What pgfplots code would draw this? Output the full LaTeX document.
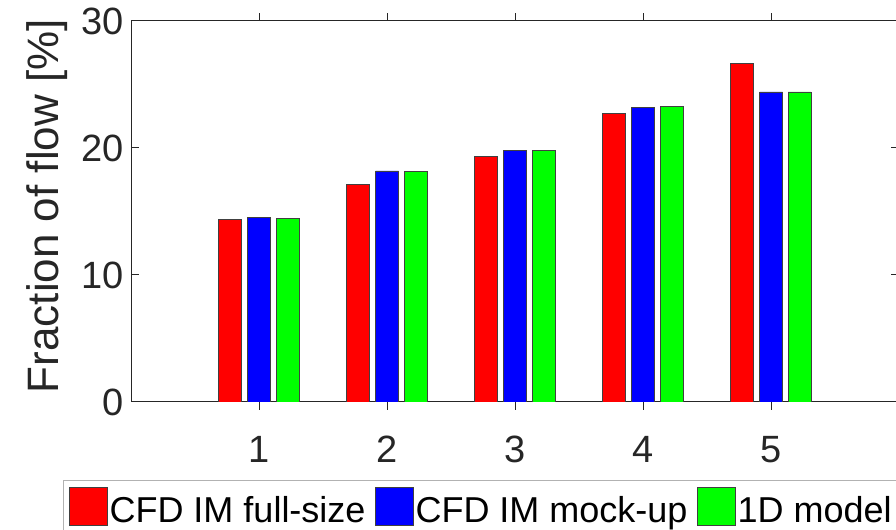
\documentclass[border=0pt]{standalone}
\usepackage{fontspec}
\setmainfont{Liberation Sans}
\usepackage{pgfplots}
\pgfplotsset{compat=1.18}
\definecolor{axgray}{RGB}{38,38,38}
\definecolor{mred}{RGB}{255,0,0}
\definecolor{mblue}{RGB}{0,0,255}
\definecolor{mgreen}{RGB}{0,255,0}
\pgfplotsset{sqleg/.style={legend image code/.code={\draw[##1,line width=0.5pt] (0pt,-1.5pt) rectangle (19pt,17.5pt);}}}

\begin{document}
\begin{tikzpicture}
\begin{axis}[
  at={(65.5pt,64pt)}, anchor=south west,
  scale only axis, width=384pt, height=190.5pt,
  xmin=0, xmax=6, ymin=0, ymax=30,
  xtick={1,2,3,4,5}, ytick={0,10,20,30},
  tick align=inside, major tick length=3.85pt,
  axis line style={axgray, line width=0.5pt},
  every tick/.style={axgray, line width=0.5pt},
  tick label style={font=\fontsize{19}{19}\selectfont, text=axgray},
  /pgf/number format/assume math mode=true,
  xticklabel style={anchor=base, yshift=-26.5pt},
  ylabel={Fraction of flow [\%]},
  every axis y label/.style={at={(axis description cs:-0.0944,0.514)}, rotate=90, anchor=base,
    font=\fontsize{22}{22}\selectfont, text=axgray},
  ybar=2.85pt, bar width=11.5pt,
  legend columns=-1,
  legend style={at={(axis description cs:-0.0885,-0.2047)}, anchor=north west,
    draw=gray!60, line width=0.5pt, font=\fontsize{18}{18}\selectfont,
    inner xsep=2.5pt, inner ysep=3.5pt,
    nodes={inner xsep=1pt, inner ysep=0pt, anchor=base west},
    /tikz/every odd column/.append style={column sep=0pt},
    /tikz/every even column/.append style={column sep=3.5pt}},
]
\addplot[fill=mred, draw=black!75, line width=0.4pt, sqleg] coordinates {
  (1,14.39) (2,17.14) (3,19.31) (4,22.73) (5,26.67)};
\addlegendentry{CFD IM full-size}
\addplot[fill=mblue, draw=black!75, line width=0.4pt, sqleg] coordinates {
  (1,14.50) (2,18.19) (3,19.84) (4,23.20) (5,24.41)};
\addlegendentry{CFD IM mock-up}
\addplot[fill=mgreen, draw=black!75, line width=0.4pt, sqleg] coordinates {
  (1,14.48) (2,18.17) (3,19.84) (4,23.25) (5,24.41)};
\addlegendentry{1D model}
\end{axis}
\pgfresetboundingbox
\path[use as bounding box] (0pt,0pt) rectangle (448pt,265pt);
\end{tikzpicture}
\end{document}
